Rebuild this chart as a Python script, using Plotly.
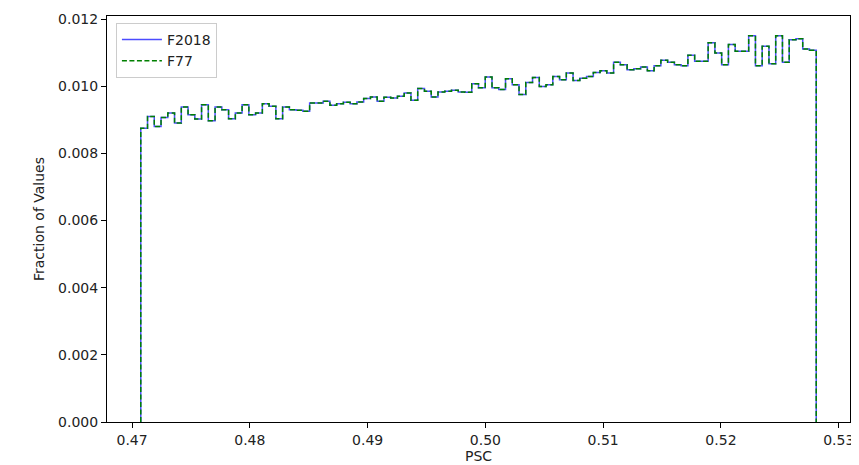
import numpy as np
import plotly.graph_objects as go

# Histogram (fraction of values per bin), 100 bins
x_start = 0.47074
x_end = 0.52809
n_bins = 100

f2018_values = [
    0.00875, 0.00910, 0.00880, 0.00907, 0.00920, 0.00890, 0.00938, 0.00915, 0.00902, 0.00945,
    0.00897, 0.00938, 0.00930, 0.00903, 0.00920, 0.00945, 0.00915, 0.00920, 0.00948, 0.00940,
    0.00903, 0.00938, 0.00930, 0.00928, 0.00925, 0.00950, 0.00950, 0.00955, 0.00943, 0.00948,
    0.00952, 0.00948, 0.00953, 0.00963, 0.00968, 0.00955, 0.00967, 0.00965, 0.00970, 0.00980,
    0.00958, 0.00993, 0.00985, 0.00968, 0.00983, 0.00985, 0.00988, 0.00983, 0.00982, 0.01007,
    0.00995, 0.01027, 0.00995, 0.00990, 0.01022, 0.01004, 0.00975, 0.01011, 0.01026, 0.00999,
    0.01004, 0.01029, 0.01019, 0.01039, 0.01017, 0.01024, 0.01029, 0.01041, 0.01046, 0.01039,
    0.01071, 0.01064, 0.01049, 0.01052, 0.01057, 0.01046, 0.01061, 0.01077, 0.01071, 0.01064,
    0.01061, 0.01092, 0.01074, 0.01074, 0.01129, 0.01099, 0.01064, 0.01124, 0.01104, 0.01104,
    0.01150, 0.01061, 0.01119, 0.01067, 0.01150, 0.01071, 0.01138, 0.01141, 0.01111, 0.01107,
]
f77_values = list(f2018_values)

x_ticks = [0.47, 0.48, 0.49, 0.50, 0.51, 0.52, 0.53]
y_ticks = [0.000, 0.002, 0.004, 0.006, 0.008, 0.010, 0.012]

edges = np.linspace(x_start, x_end, n_bins + 1)


def step_xy(vals):
    xs = [edges[0]] + list(edges) + [edges[-1]]
    ys = [0.0] + list(vals) + [vals[-1], 0.0]
    return xs, ys


fig = go.Figure()
xs, ys = step_xy(f2018_values)
fig.add_trace(go.Scatter(
    x=xs, y=ys, mode="lines", line_shape="hv", name="F2018",
    line=dict(color="rgba(0,0,255,0.7)", width=1.5),
))
xs, ys = step_xy(f77_values)
fig.add_trace(go.Scatter(
    x=xs, y=ys, mode="lines", line_shape="hv", name="F77",
    line=dict(color="green", width=1.5, dash="5px,2.5px"),
))

span = x_end - x_start
axis_common = dict(
    showline=True, linecolor="black", linewidth=1, mirror=True,
    ticks="outside", ticklen=5, tickwidth=1, tickcolor="black",
    showgrid=False, zeroline=False, automargin=False,
    tickfont=dict(family="DejaVu Sans", size=14, color="#222"),
)
fig.update_xaxes(
    range=[x_start - 0.05 * span, x_end + 0.05 * span],
    tickvals=x_ticks, tickformat=".2f",
    title=dict(text="PSC", font=dict(family="DejaVu Sans", size=14, color="#222"), standoff=4),
    **axis_common,
)
fig.update_yaxes(
    range=[0, 0.01209],
    tickvals=y_ticks, tickformat=".3f",
    title=dict(text="Fraction of Values", font=dict(family="DejaVu Sans", size=14, color="#222"), standoff=10),
    **axis_common,
)
fig.update_layout(
    width=859, height=465,
    margin=dict(l=99, r=17, t=8, b=51, autoexpand=False),
    paper_bgcolor="white", plot_bgcolor="white",
    font=dict(family="DejaVu Sans", size=14, color="#222"),
    legend=dict(
        x=0.012, y=0.983, xanchor="left", yanchor="top",
        bordercolor="#cccccc", borderwidth=1, bgcolor="rgba(255,255,255,0.8)",
        font=dict(family="DejaVu Sans", size=14, color="#222"),
        tracegroupgap=0, itemwidth=40,
    ),
    showlegend=True,
)

fig.write_html("out.html")
